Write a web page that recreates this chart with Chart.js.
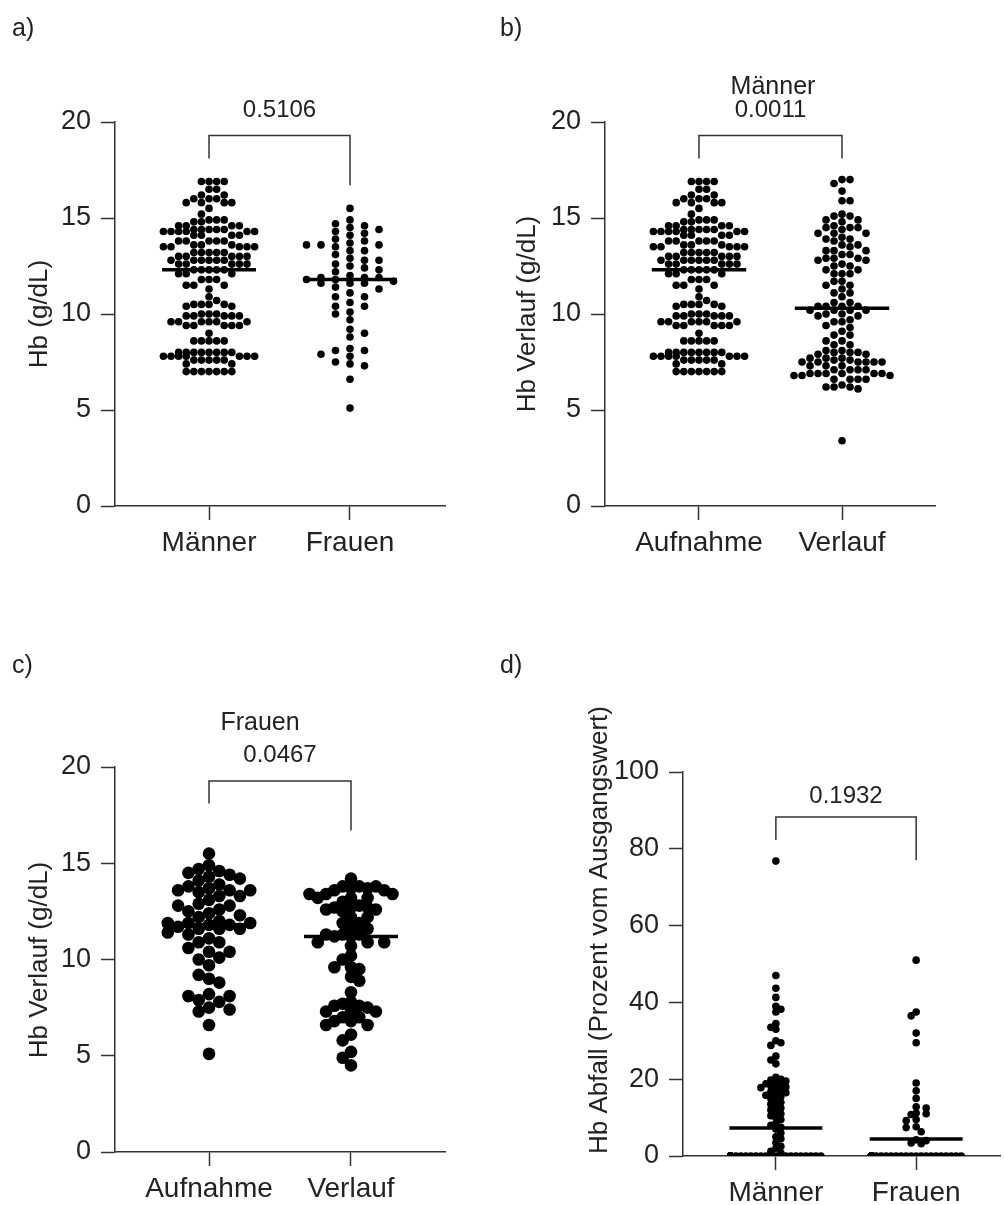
<!DOCTYPE html>
<html>
<head>
<meta charset="utf-8">
<script src="https://cdn.jsdelivr.net/npm/chart.js@4.4.0/dist/chart.umd.min.js"></script>
<style>
  html, body { margin: 0; padding: 0; background: #fff; }
  body { width: 1004px; height: 1205px; position: relative; overflow: hidden; }
  canvas { position: absolute; }
</style>
</head>
<body>
<canvas id="cA" width="502" height="602" style="left:0;top:0;width:502px;height:602px"></canvas>
<canvas id="cB" width="514" height="602" style="left:490px;top:0;width:514px;height:602px"></canvas>
<canvas id="cC" width="502" height="603" style="left:0;top:602px;width:502px;height:603px"></canvas>
<canvas id="cD" width="514" height="603" style="left:490px;top:602px;width:514px;height:603px"></canvas>
<script>
// ---------------- DATA ----------------
const catsSex = ['Männer', 'Frauen'];
const catsTime = ['Aufnahme', 'Verlauf'];
const yTicksHb = [0, 5, 10, 15, 20];
const yTicksPct = [0, 20, 40, 60, 80, 100];

// Hb (g/dL) at admission, men
const hbMaenner = [
  16.9,16.9,16.9,16.9, 16.5,16.5, 16.2,16.2, 16.0,16.0,16.0, 15.8,15.8,15.8,15.8, 15.5, 15.2,
  14.9,14.9,14.9, 14.8,14.8, 14.6,14.6,14.6,14.6, 14.4,14.4,14.4,14.4,14.4, 14.3,14.3,14.3,14.3,14.3,14.3,
  14.1,14.1,14.1,14.1, 13.8,13.8,13.8,13.8,13.8, 13.6,13.6,13.6, 13.5,13.5,13.5,13.5,13.5,
  13.2,13.2,13.2,13.2,13.2, 13.0,13.0,13.0,13.0,13.0, 12.8,12.8,12.8,12.8,12.8,12.8, 12.6,12.6,12.6,12.6,12.6,
  12.3,12.3,12.3,12.3,12.3, 12.1,12.1,12.1, 11.8,11.8,11.8, 11.5,11.5,11.5, 11.3, 10.9, 10.7,
  10.5,10.5,10.5,10.5, 10.4,10.4, 10.0,10.0,10.0, 9.9,9.9,9.9,9.9,9.9, 9.6,9.6,9.6,9.6,9.6,9.6,
  9.4,9.4,9.4,9.4,9.4, 9.0, 8.6,8.6,8.6,8.6,8.6, 8.0,8.0,8.0,8.0,8.0,8.0,8.0,8.0,
  7.8,7.8,7.8,7.8,7.8,7.8,7.8, 7.6,7.6,7.6,7.6,7.6, 7.4,7.4, 7.0,7.0,7.0,7.0,7.0,7.0,7.0
];
// Hb (g/dL) at admission, women
const hbFrauen = [
  15.5,14.9,14.7,14.6,14.5,14.4,14.3,14.2,14.1,13.9,13.8,13.7,13.6,13.6,13.6,13.5,13.3,13.3,13.1,12.9,
  12.8,12.8,12.6,12.5,12.4,12.3,12.2,12.0,11.9,11.9,11.9,11.8,11.8,11.7,11.6,11.6,11.6,11.4,11.3,11.1,
  10.9,10.9,10.6,10.4,10.4,10.1,10.0,9.7,9.2,9.0,8.8,8.2,8.1,8.1,7.9,7.8,7.5,7.4,7.3,6.6,5.1
];
// Hb (g/dL) follow-up, men
const hbMaennerVerlauf = [
  17.0,17.0,16.8,16.4,15.9,15.9,15.2,15.1,15.1,14.9,14.9,14.8,14.6,14.5,14.5,14.5,14.4,14.2,14.2,14.2,
  14.0,13.9,13.9,13.8,13.6,13.6,13.5,13.3,13.3,13.3,13.1,13.1,12.9,12.9,12.9,12.8,12.8,12.6,12.5,12.5,
  12.3,12.3,12.1,12.1,12.1,11.7,11.7,11.5,11.5,11.3,11.1,11.1,10.9,10.6,10.6,10.4,10.4,10.4,10.4,10.2,
  10.2,10.2,10.2,10.0,10.0,9.9,9.9,9.7,9.6,9.6,9.4,9.3,9.1,8.9,8.9,8.6,8.6,8.4,8.4,8.1,
  8.1,8.0,8.0,8.0,7.9,7.9,7.7,7.7,7.7,7.6,7.6,7.5,7.5,7.5,7.5,7.5,7.5,7.3,7.3,7.3,
  7.1,7.1,7.1,7.1,6.9,6.9,6.9,6.9,6.9,6.9,6.8,6.8,6.8,6.6,6.6,6.6,6.6,6.3,6.2,6.2,
  6.2,6.1,3.4
];
// Hb (g/dL) follow-up, women
const hbFrauenVerlauf = [
  14.2,13.8,13.8,13.8,13.7,13.7,13.6,13.6,13.4,13.4,13.4,13.2,13.2,13.2,13.0,12.8,12.7,12.7,12.7,12.6,
  12.6,12.5,12.2,12.2,11.9,11.9,11.7,11.6,11.3,11.3,11.3,11.2,11.2,10.9,10.9,10.9,10.7,10.2,10.0,9.6,
  9.6,9.5,9.1,8.9,8.3,7.8,7.7,7.6,7.6,7.5,7.3,7.3,7.3,7.0,7.0,6.8,6.8,6.6,6.6,6.1,
  5.8,5.2,4.9,4.5
];
// Hb drop (% of baseline), men
const abfallMaenner = [
  76.8,47.0,43.7,41.3,39.0,38.2,37.5,34.5,33.5,33.0,30.0,29.5,28.8,26.0,25.0,24.0,
  20.5,20.0,19.8,19.5,19.0,18.8,18.5,18.2,18.0,17.8,17.5,17.0,16.8,16.5,16.0,15.8,15.5,15.0,
  14.5,14.0,13.5,13.0,12.5,12.0,11.5,11.0,10.5,10.0,9.5,8.5,8.0,7.5,7.0,6.0,5.0,4.5,3.5,2.5,2.0,1.2,0.8,
  0,0,0,0,0,0,0,0,0,0,0,0,0,0,0,0,0,0,0,0,0,0,0,0,0,0,0,0,0,0,
  0,0,0,0,0,0,0,0,0,0,0,0,0,0,0,0,0,0,0,0,0,0,0,0,0,0,0,0,0,0
];
// Hb drop (% of baseline), women
const abfallFrauen = [
  51.0,37.5,36.5,32.0,29.5,19.0,17.0,15.0,12.8,12.5,11.2,11.0,10.8,9.5,9.2,7.6,7.4,6.3,4.2,4.0,3.4,3.2,
  0,0,0,0,0,0,0,0,0,0,0,0,0,0,0,0,0,0,0,0,
  0,0,0,0,0,0,0,0,0,0,0,0,0,0,0,0,0,0,0,0
];
// horizontal centre lines
const centerA = [12.3, 11.8];
const centerB = [12.3, 10.3];
const centerC = [11.8, 11.2];
const centerD = [7.3, 4.4];
const pValues = ['0.5106', '0.0011', '0.0467', '0.1932'];

// ---------------- RENDERING ----------------
const FONT = '"Liberation Sans", Arial, Helvetica, sans-serif';
const TXT = '#222';
const LINE = '#333';
Chart.defaults.font.family = FONT;
Chart.defaults.color = TXT;

const deco = {
  id: 'deco',
  afterDraw(chart, args, o) {
    const ctx = chart.ctx, xs = chart.scales.x, ys = chart.scales.y;
    ctx.save();
    ctx.fillStyle = TXT;
    ctx.font = '25px ' + FONT;
    ctx.textAlign = 'left'; ctx.textBaseline = 'alphabetic';
    ctx.fillText(o.letter[0], o.letter[1], o.letter[2]);
    if (o.title) {
      ctx.font = '25px ' + FONT;
      ctx.textAlign = 'center';
      ctx.fillText(o.title[0], o.title[1], o.title[2]);
    }
    ctx.save();
    ctx.font = '26px ' + FONT;
    ctx.translate(o.axisTitle[1], o.axisTitle[2]);
    ctx.rotate(-Math.PI / 2);
    ctx.textAlign = 'center'; ctx.textBaseline = 'middle';
    ctx.fillText(o.axisTitle[0], 0, 0);
    ctx.restore();
    const xl = xs.getPixelForValue(0), xr = xs.getPixelForValue(1);
    const yt = ys.getPixelForValue(o.bracket[0]);
    const yl = ys.getPixelForValue(o.bracket[1]);
    const yr = ys.getPixelForValue(o.bracket[2]);
    ctx.strokeStyle = LINE; ctx.lineWidth = 1.5;
    ctx.beginPath();
    ctx.moveTo(xl, yl); ctx.lineTo(xl, yt); ctx.lineTo(xr, yt); ctx.lineTo(xr, yr);
    ctx.stroke();
    ctx.font = '24px ' + FONT;
    ctx.textAlign = 'center'; ctx.textBaseline = 'alphabetic';
    ctx.fillText(o.p, (xl + xr) / 2, yt - o.pGap);
    ctx.restore();
  }
};

function applySwarm(chart, cfg) {
  const xs = chart.scales.x, ys = chart.scales.y;
  cfg.groups.forEach((vals, gi) => {
    const cx = xs.getPixelForValue(gi);
    const step = cfg.swarm[gi][0], coll = cfg.swarm[gi][1];
    const nMax = Math.floor(cfg.maxHalf / step);
    const order = vals.map((v, i) => ({ v, i, py: ys.getPixelForValue(v) }))
      .sort((a, b) => a.py - b.py);
    const placed = [];
    const out = new Array(vals.length);
    order.forEach((p, n) => {
      let chosen = null;
      const pref = n % 2 ? 1 : -1;
      for (let k = 0; k <= nMax && chosen === null; k++) {
        const cands = k === 0 ? [0] : [pref * k, -pref * k];
        for (const c of cands) {
          const px = cx + c * step;
          let ok = true;
          for (const q of placed) {
            if (Math.hypot(q.px - px, q.py - p.py) < coll) { ok = false; break; }
          }
          if (ok) { chosen = px; break; }
        }
      }
      if (chosen === null) {
        let bestD = -1;
        for (let c = -nMax; c <= nMax; c++) {
          const px = cx + c * step;
          let md = Infinity;
          for (const q of placed) md = Math.min(md, Math.hypot(q.px - px, q.py - p.py));
          if (md > bestD) { bestD = md; chosen = px; }
        }
      }
      placed.push({ px: chosen, py: p.py });
      out[p.i] = { x: xs.getValueForPixel(chosen), y: p.v };
    });
    chart.data.datasets[gi].data = out;
  });
  chart.update('none');
}

function makePanel(cfg) {
  const datasets = [];
  cfg.groups.forEach((vals, gi) => {
    datasets.push({
      data: vals.map(v => ({ x: gi, y: v })),
      pointRadius: cfg.r, pointHoverRadius: cfg.r,
      pointBackgroundColor: '#000', pointBorderWidth: 0, pointStyle: 'circle',
      showLine: false, order: 2
    });
  });
  cfg.centers.forEach((c, gi) => {
    datasets.push({
      data: [{ x: gi - cfg.lineHalf, y: c }, { x: gi + cfg.lineHalf, y: c }],
      showLine: true, borderColor: '#000', borderWidth: 3.5, pointRadius: 0,
      borderCapStyle: 'butt', order: 1
    });
  });
  const tickGrid = { drawOnChartArea: false, drawTicks: true, tickLength: 14, tickColor: LINE, tickWidth: 1.5 };
  const chart = new Chart(document.getElementById(cfg.id), {
    type: 'scatter',
    data: { datasets },
    plugins: [deco],
    options: {
      responsive: false, animation: false, events: [],
      layout: { padding: cfg.padding },
      plugins: { legend: { display: false }, tooltip: { enabled: false }, deco: cfg.deco },
      scales: {
        x: {
          type: 'linear', min: cfg.xRange[0], max: cfg.xRange[1],
          afterBuildTicks: s => { s.ticks = cfg.labels.map((l, i) => ({ value: i })); },
          afterFit: s => { s.height = cfg.xH; },
          ticks: { autoSkip: false, maxRotation: 0, font: { size: 28 }, color: TXT, padding: 6,
                   callback: v => cfg.labels[Math.round(v)] },
          grid: tickGrid,
          border: { display: true, color: LINE, width: 1.5 }
        },
        y: {
          min: 0, max: cfg.yTicks[cfg.yTicks.length - 1],
          afterBuildTicks: s => { s.ticks = cfg.yTicks.map(v => ({ value: v })); },
          afterFit: s => { s.width = cfg.yW; },
          ticks: { font: { size: 27 }, color: TXT, padding: 10 },
          grid: tickGrid,
          border: { display: true, color: LINE, width: 1.5 }
        }
      }
    }
  });
  applySwarm(chart, cfg);
  return chart;
}

makePanel({
  id: 'cA', groups: [hbMaenner, hbFrauen], centers: centerA, labels: catsSex, yTicks: yTicksHb,
  r: 3.8, swarm: [[7.6, 7.4], [14.5, 7.6]], maxHalf: 48, lineHalf: 0.333,
  padding: { top: 122, right: 57, bottom: 36, left: 0 }, yW: 115, xH: 60, xRange: [-0.667, 1.674],
  deco: { letter: ['a)', 12, 36], axisTitle: ['Hb (g/dL)', 40, 314], p: pValues[0], pGap: 18,
          bracket: [19.3, 18.1, 16.7] }
});
makePanel({
  id: 'cB', groups: [hbMaenner, hbMaennerVerlauf], centers: centerB, labels: catsTime, yTicks: yTicksHb,
  r: 3.8, swarm: [[7.6, 7.4], [8, 7.6]], maxHalf: 48, lineHalf: 0.33,
  padding: { top: 122, right: 69, bottom: 36, left: 0 }, yW: 115, xH: 60, xRange: [-0.657, 1.650],
  deco: { letter: ['b)', 10, 36], title: ['Männer', 283, 94], axisTitle: ['Hb Verlauf (g/dL)', 38, 314],
          p: pValues[1], pGap: 18, bracket: [19.3, 18.1, 18.1] }
});
makePanel({
  id: 'cC', groups: [hbFrauen, hbFrauenVerlauf], centers: centerC, labels: catsTime, yTicks: yTicksHb,
  r: 6.3, swarm: [[10.3, 10.5], [8.3, 8.5]], maxHalf: 48, lineHalf: 0.331,
  padding: { top: 165, right: 57, bottom: 0, left: 0 }, yW: 115, xH: 53, xRange: [-0.662, 1.662],
  deco: { letter: ['c)', 12, 71], title: ['Frauen', 260, 128], axisTitle: ['Hb Verlauf (g/dL)', 40, 358],
          p: pValues[2], pGap: 19, bracket: [19.27, 18.1, 16.7] }
});
makePanel({
  id: 'cD', groups: [abfallMaenner, abfallFrauen], centers: centerD, labels: catsSex, yTicks: yTicksPct,
  r: 3.8, swarm: [[5, 5.2], [5, 5.2]], maxHalf: 47, lineHalf: 0.331,
  padding: { top: 170, right: 0, bottom: 0, left: 0 }, yW: 193, xH: 49, xRange: [-0.662, 1.599],
  deco: { letter: ['d)', 10, 71], axisTitle: ['Hb Abfall (Prozent vom Ausgangswert)', 110, 328],
          p: pValues[3], pGap: 14, bracket: [88.3, 82.3, 77] }
});
</script>
</body>
</html>
